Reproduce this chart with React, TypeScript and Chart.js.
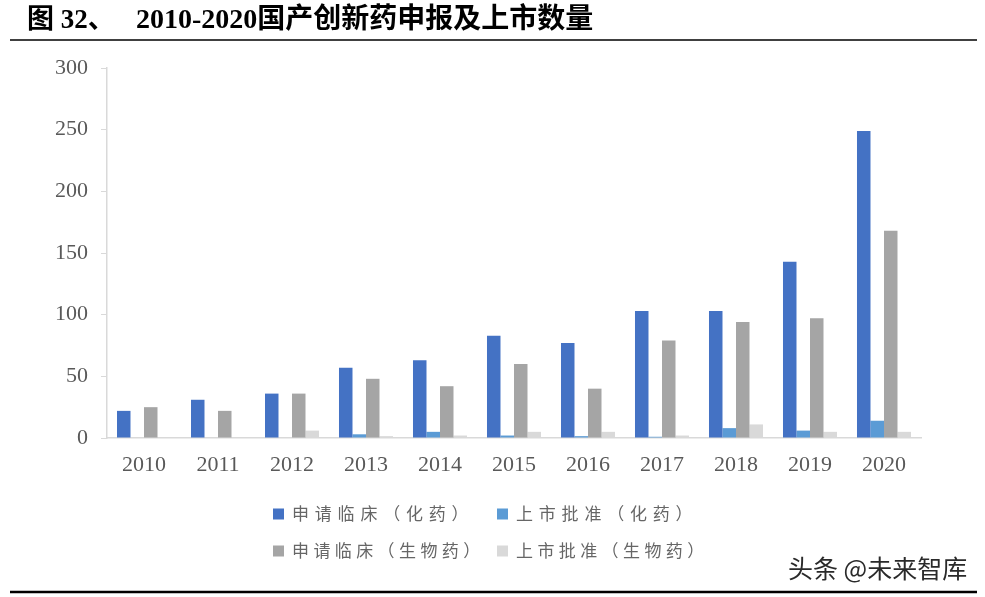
import React, { useEffect, useRef } from "react";
import { Chart, registerables } from "chart.js";

Chart.register(...registerables);

const categories = ["2010", "2011", "2012", "2013", "2014", "2015", "2016", "2017", "2018", "2019", "2020"];
const chemClinical = [22, 31, 36, 57, 63, 83, 77, 103, 103, 143, 249];
const chemApproved = [0, 0, 0, 3, 5, 2, 1.5, 1, 8, 6, 14];
const bioClinical = [25, 22, 36, 48, 42, 60, 40, 79, 94, 97, 168];
const bioApproved = [0, 0, 6, 1.5, 2, 5, 5, 2, 11, 5, 5];
const seriesLabels = ["申请临床（化药）", "上市批准（化药）", "申请临床（生物药）", "上市批准（生物药）"];
const seriesColors = ["#4472C4", "#5B9BD5", "#A5A5A5", "#D9D9D9"];
const yTicks = [0, 50, 100, 150, 200, 250, 300];
const titlePrefix = "图 32、";
const titleMain = "2010-2020国产创新药申报及上市数量";
const watermark = "头条 @未来智库";

const decorPlugin = {
  id: "decor",
  afterDraw(chart: any) {
    const ctx = chart.ctx as CanvasRenderingContext2D;
    ctx.save();
    // title
    ctx.fillStyle = "#000";
    ctx.textBaseline = "middle";
    ctx.textAlign = "left";
    ctx.font = "bold 27px 'Liberation Serif', 'Noto Sans CJK SC', serif";
    ctx.fillText(titlePrefix, 27, 21);
    ctx.font = "bold 28px 'Liberation Serif', 'Noto Sans CJK SC', serif";
    ctx.fillText(titleMain, 136, 21);
    // rules
    ctx.strokeStyle = "#000";
    ctx.lineWidth = 1.5;
    ctx.beginPath();
    ctx.moveTo(10, 40);
    ctx.lineTo(977, 40);
    ctx.stroke();
    ctx.lineWidth = 2.5;
    ctx.beginPath();
    ctx.moveTo(10, 592);
    ctx.lineTo(977, 592);
    ctx.stroke();
    // legend
    const cols = [273, 497];
    const rows = [514, 551];
    const spacing = ["5.8px", "4.4px"];
    ctx.font = "17px 'Noto Sans CJK SC', sans-serif";
    chart.data.datasets.forEach((ds: any, i: number) => {
      const x = cols[i % 2];
      const r = Math.floor(i / 2);
      const y = rows[r];
      (ctx as any).letterSpacing = spacing[r];
      ctx.fillStyle = ds.backgroundColor;
      ctx.fillRect(x, y - 5.5, 11, 11);
      ctx.fillStyle = "#666";
      ctx.textBaseline = "middle";
      ctx.fillText(ds.label, x + 19, y);
    });
    (ctx as any).letterSpacing = "0px";
    // watermark
    ctx.font = "25px 'Noto Sans CJK SC', sans-serif";
    ctx.fillStyle = "#fff";
    ctx.fillText(watermark, 789, 569);
    ctx.fillStyle = "#2a2a2a";
    ctx.fillText(watermark, 788, 568);
    ctx.restore();
  },
};

export default function App() {
  const ref = useRef<HTMLCanvasElement>(null);
  useEffect(() => {
    if (!ref.current) return;
    const data = [chemClinical, chemApproved, bioClinical, bioApproved];
    const chart = new Chart(ref.current, {
      type: "bar",
      data: {
        labels: categories,
        datasets: seriesLabels.map((label, i) => ({
          label,
          data: data[i],
          backgroundColor: seriesColors[i],
          borderWidth: 0,
          categoryPercentage: 0.73,
          barPercentage: 1.0,
        })),
      },
      options: {
        responsive: false,
        animation: false,
        layout: { padding: { left: 0, top: 68, right: 64, bottom: 0 } },
        plugins: {
          legend: { display: false },
          tooltip: { enabled: false },
        },
        scales: {
          x: {
            grid: { display: false, drawTicks: false },
            border: { display: true, color: "#D9D9D9", width: 1.5 },
            ticks: {
              color: "#595959",
              font: { family: "'Liberation Serif', 'Times New Roman', serif", size: 22 },
              padding: 14,
              maxRotation: 0,
            },
            afterFit(scale: any) {
              scale.height = 159;
            },
          },
          y: {
            min: 0,
            max: 300,
            afterBuildTicks(scale: any) {
              scale.ticks = yTicks.map((v) => ({ value: v }));
            },
            grid: { display: true, drawOnChartArea: false, drawTicks: true, tickLength: 6, color: "#D9D9D9" },
            border: { display: true, color: "#D9D9D9", width: 1.5 },
            ticks: {
              color: "#595959",
              font: { family: "'Liberation Serif', 'Times New Roman', serif", size: 22 },
              padding: 13,
            },
            afterFit(scale: any) {
              scale.width = 107;
            },
          },
        },
      },
      plugins: [decorPlugin],
    });
    return () => chart.destroy();
  }, []);
  return (
    <div style={{ position: "absolute", left: 0, top: 0, width: 985, height: 597, background: "#fff" }}>
      <canvas ref={ref} width={985} height={597} style={{ display: "block" }} />
    </div>
  );
}
